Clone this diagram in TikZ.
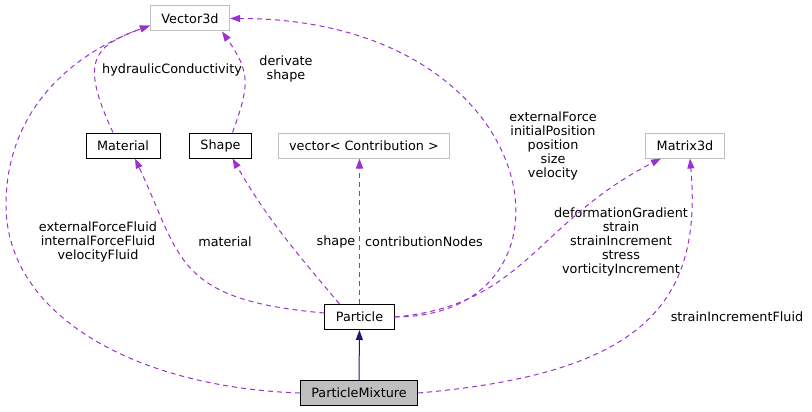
\documentclass[tikz,border=0pt]{standalone}
\usepackage{fontspec}
\setmainfont{DejaVu Sans}
\usetikzlibrary{
    arrows.meta
}
\definecolor{morado}{HTML}{9A32CD}
\definecolor{marino}{HTML}{191970}
\definecolor{gris}{HTML}{BFBFBF}
\tikzset{
    >={Triangle[length=10pt,width=7pt]},
    every node/.style={
        font=\fontsize{12.8}{14}\selectfont
    },
    clase/.style={
        draw=black,
        fill=white,
        line width=1pt,
        inner xsep=11pt,
        minimum height=25pt
    },
    externa/.style={
        clase,
        draw=gris
    },
    uso/.style={
        draw=morado,
        line width=1pt,
        dash pattern=on 5pt off 4pt
    },
    etiqueta/.style={
        align=center,
        inner sep=0pt
    }
}

\begin{document}
\begin{tikzpicture}[
    x=1pt,
    y=1pt
]
    \useasboundingbox (0,0) rectangle (812,-412);

    % Clases
    \node[externa]            (vec) at (190,-18.5)   {Vector3d};
    \node[clase]              (mat) at (123,-145.5)  {Material};
    \node[clase]              (sh)  at (220.5,-145.5) {Shape};
    \node[externa]            (vc)  at (364,-145.5)  {vector< Contribution >};
    \node[externa]            (mx)  at (685,-145.5)  {Matrix3d};
    \node[clase]              (pa)  at (359.5,-317)  {Particle};
    \node[clase, fill=gris]   (pm)  at (359,-393)    {ParticleMixture};

    % Punto de paso
    \coordinate (cfl) at (6,-205);

    % Etiquetas
    \node[etiqueta] (lhc) at (172,-70)   {hydraulicConductivity};
    \node[etiqueta] (lds) at (286,-69)   {derivate\\shape};
    \node[etiqueta] (lpv) at (553,-145.5) {externalForce\\initialPosition\\position\\size\\velocity};
    \node[etiqueta] (lfl) at (98,-242)   {externalForceFluid\\internalForceFluid\\velocityFluid};
    \node[etiqueta] (lma) at (225,-242)  {material};
    \node[etiqueta] (lsh) at (336,-242)  {shape};
    \node[etiqueta] (lcn) at (424,-242)  {contributionNodes};
    \node[etiqueta] (lmx) at (621,-242)  {deformationGradient\\strain\\strainIncrement\\stress\\vorticityIncrement};
    \node[etiqueta] (lsf) at (737,-317)  {strainIncrementFluid};

    % Relaciones de uso
    \path[->]

        % Hacia Vector3d
        ([xshift=-10pt]mat.north)
            edge[uso, out=115, in=200, out distance=80pt, in distance=60pt] ([yshift=-7pt]vec.west)
        ([xshift=12pt]sh.north)
            edge[uso, out=70, in=-55, out distance=50pt, in distance=50pt] ([xshift=32pt]vec.south)
        (pa.east)
            edge[uso, out=0, in=0, out distance=200pt, in distance=320pt] (vec.east)

        % Desde Particle
        ([yshift=4pt]pa.west)
            edge[uso, out=175, in=-65, out distance=150pt, in distance=110pt] ([xshift=12pt]mat.south)
        ([xshift=-20pt]pa.north)
            edge[uso, out=130, in=-60] ([xshift=12pt]sh.south)
        (pa.north)
            edge[uso] (pa.north |- vc.south)
        (pa.east)
            edge[uso, out=5, in=207, out distance=130pt, in distance=140pt] ([xshift=-24pt]mx.south)

        % Hacia Matrix3d
        (pm.east)
            edge[uso, out=5, in=-85, out distance=220pt, in distance=150pt] ([xshift=5pt]mx.south);

    % Fluidos hacia Vector3d
    \draw[uso, ->]
        (pm.west) to[out=178, in=-90, out distance=165pt, in distance=110pt] (cfl)
                  to[out=90, in=200] ([yshift=-7pt]vec.west);

    % Herencia
    \draw[->, marino, line width=1pt] (pm) -- (pa);

\end{tikzpicture}
\end{document}
